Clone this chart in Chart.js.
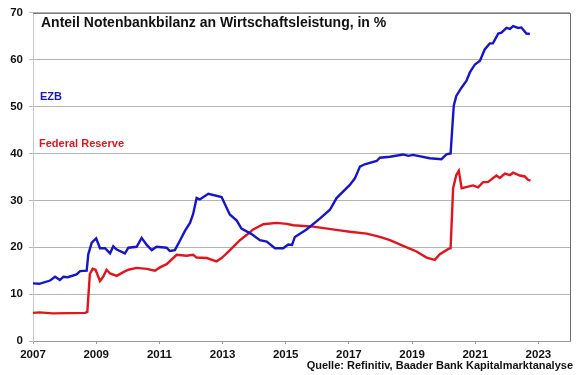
<!DOCTYPE html>
<html>
<head>
<meta charset="utf-8">
<script src="https://cdn.jsdelivr.net/npm/chart.js@4/dist/chart.umd.min.js"></script>
<style>
  html, body { margin: 0; padding: 0; background: #fff; }
  #wrap { width: 580px; height: 375px; position: relative; }
</style>
</head>
<body>
<div id="wrap"><canvas id="chart" width="580" height="375"></canvas></div>
<script>
// Anteil Notenbankbilanz an BIP (in %)
const ezbYears = [2007.0, 2007.2, 2007.54, 2007.7, 2007.85, 2007.96, 2008.1, 2008.38, 2008.49, 2008.7,
  2008.75, 2008.86, 2009.0, 2009.12, 2009.28, 2009.44, 2009.54, 2009.65, 2009.91, 2010.02,
  2010.28, 2010.44, 2010.6, 2010.76, 2010.91, 2011.23, 2011.33, 2011.49, 2011.65, 2011.81,
  2011.97, 2012.07, 2012.18, 2012.28, 2012.55, 2012.97, 2013.23, 2013.45, 2013.6, 2013.92,
  2014.18, 2014.4, 2014.66, 2014.92, 2015.08, 2015.2, 2015.29, 2015.66, 2016.08, 2016.4,
  2016.61, 2017.03, 2017.19, 2017.35, 2017.5, 2017.88, 2017.98, 2018.3, 2018.72, 2018.88,
  2019.03, 2019.56, 2019.93, 2020.09, 2020.22, 2020.32, 2020.4, 2020.57, 2020.72, 2020.83,
  2020.99, 2021.15, 2021.3, 2021.46, 2021.56, 2021.73, 2021.83, 2021.99, 2022.1, 2022.2,
  2022.36, 2022.46, 2022.62, 2022.73];
const ezbValues = [12.3, 12.2, 12.9, 13.7, 13.0, 13.7, 13.6, 14.2, 14.9, 15.0,
  18.5, 21.0, 21.9, 19.8, 19.8, 18.7, 20.2, 19.5, 18.7, 19.9,
  20.1, 22.0, 20.5, 19.4, 20.1, 19.9, 19.2, 19.4, 21.4, 23.5,
  25.2, 27.1, 30.5, 30.2, 31.4, 30.7, 27.0, 25.7, 24.0, 22.8,
  21.5, 21.2, 19.8, 19.8, 20.6, 20.5, 22.2, 23.8, 26.1, 28.0,
  30.5, 33.3, 34.7, 37.2, 37.7, 38.4, 39.1, 39.3, 39.8, 39.5,
  39.7, 39.0, 38.8, 39.8, 40.0, 50.2, 52.3, 54.1, 55.5, 57.3,
  59.0, 59.8, 62.2, 63.5, 63.5, 65.6, 65.8, 66.8, 66.6, 67.2,
  66.8, 66.9, 65.6, 65.5];

const fedYears = [2007.0, 2007.2, 2007.63, 2008.65, 2008.72, 2008.8, 2008.89, 2008.98, 2009.12, 2009.22,
  2009.33, 2009.44, 2009.65, 2009.86, 2010.02, 2010.28, 2010.6, 2010.86, 2011.02, 2011.23,
  2011.55, 2011.86, 2012.07, 2012.18, 2012.5, 2012.81, 2012.97, 2013.13, 2013.34, 2013.55,
  2013.76, 2013.97, 2014.29, 2014.71, 2015.03, 2015.24, 2015.87, 2016.71, 2017.03, 2017.56,
  2017.98, 2018.3, 2018.72, 2019.14, 2019.46, 2019.72, 2019.88, 2020.14, 2020.22, 2020.3,
  2020.4, 2020.48, 2020.57, 2020.93, 2021.09, 2021.25, 2021.4, 2021.67, 2021.78, 2021.94,
  2022.1, 2022.2, 2022.41, 2022.57, 2022.67, 2022.75];
const fedValues = [6.0, 6.1, 5.9, 6.0, 6.2, 14.3, 15.4, 15.2, 12.8, 13.7,
  15.2, 14.4, 13.9, 14.7, 15.2, 15.6, 15.4, 15.0, 15.7, 16.4,
  18.4, 18.2, 18.4, 17.8, 17.7, 17.0, 17.7, 18.7, 20.1, 21.5,
  22.6, 23.8, 24.9, 25.2, 25.0, 24.7, 24.4, 23.6, 23.3, 22.9,
  22.2, 21.5, 20.3, 19.1, 17.8, 17.3, 18.5, 19.6, 19.8, 32.6,
  35.4, 36.3, 32.6, 33.2, 32.8, 33.9, 33.9, 35.3, 34.8, 35.7,
  35.4, 35.9, 35.3, 35.1, 34.4, 34.2];

const xTicks = [2007, 2009, 2011, 2013, 2015, 2017, 2019, 2021, 2023];
const yTicks = [0, 10, 20, 30, 40, 50, 60, 70];

const titleText = "Anteil Notenbankbilanz an Wirtschaftsleistung, in %";
const sourceText = "Quelle: Refinitiv, Baader Bank Kapitalmarktanalyse";

const FONT = "'Liberation Sans', Arial, sans-serif";
const BLUE = "#1616c8";
const RED = "#e2141c";

function toPoints(xs, ys) {
  return xs.map((x, i) => ({ x: x, y: ys[i] }));
}

// Texte und Rahmen direkt auf das Canvas
const annotations = {
  id: "annotations",
  afterDraw(chart) {
    const ctx = chart.ctx;
    const a = chart.chartArea;
    ctx.save();
    // Rahmen oben und rechts
    ctx.strokeStyle = "#6e6e6e";
    ctx.lineWidth = 1;
    ctx.beginPath();
    ctx.moveTo(a.left, a.top + 0.5);
    ctx.lineTo(a.right + 0.5, a.top + 0.5);
    ctx.lineTo(a.right + 0.5, a.bottom);
    ctx.stroke();

    ctx.textBaseline = "middle";
    ctx.textAlign = "left";
    ctx.fillStyle = "#111";
    ctx.font = "bold 14px " + FONT;
    ctx.fillText(titleText, 41, 23);

    ctx.font = "bold 11px " + FONT;
    ctx.fillStyle = BLUE;
    ctx.fillText("EZB", 40, 97);
    ctx.fillStyle = RED;
    ctx.fillText("Federal Reserve", 39, 144);

    ctx.fillStyle = "#111";
    ctx.textAlign = "right";
    ctx.font = "bold 11px " + FONT;
    ctx.fillText(sourceText, 573, 366);
    ctx.restore();
  }
};

new Chart(document.getElementById("chart"), {
  type: "line",
  data: {
    datasets: [
      {
        label: "EZB",
        data: toPoints(ezbYears, ezbValues),
        borderColor: BLUE,
        borderWidth: 2.4,
        pointRadius: 0,
        tension: 0
      },
      {
        label: "Federal Reserve",
        data: toPoints(fedYears, fedValues),
        borderColor: RED,
        borderWidth: 2.4,
        pointRadius: 0,
        tension: 0
      }
    ]
  },
  options: {
    responsive: false,
    animation: false,
    layout: { padding: { top: 10, right: 10, bottom: 14, left: 0 } },
    plugins: {
      legend: { display: false },
      tooltip: { enabled: false }
    },
    scales: {
      x: {
        type: "linear",
        min: 2007,
        max: 2024,
        afterBuildTicks: axis => { axis.ticks = xTicks.map(v => ({ value: v })); },
        afterFit: axis => { axis.height = 20; },
        grid: { display: true, drawOnChartArea: false, color: "#999", tickLength: 3 },
        border: { color: "#999", width: 1 },
        ticks: {
          color: "#111",
          padding: 4,
          maxRotation: 0,
          font: { family: FONT, size: 11.5, weight: "bold" },
          callback: v => String(v)
        }
      },
      y: {
        min: 0,
        max: 70,
        afterBuildTicks: axis => { axis.ticks = yTicks.map(v => ({ value: v })); },
        afterFit: axis => { axis.width = 33; },
        grid: { color: "#b4b4b4", lineWidth: 1, tickLength: 4 },
        border: { color: "#c8c8c8", width: 1 },
        ticks: {
          color: "#111",
          padding: 6,
          font: { family: FONT, size: 11.5, weight: "bold" }
        }
      }
    }
  },
  plugins: [annotations]
});
</script>
</body>
</html>
